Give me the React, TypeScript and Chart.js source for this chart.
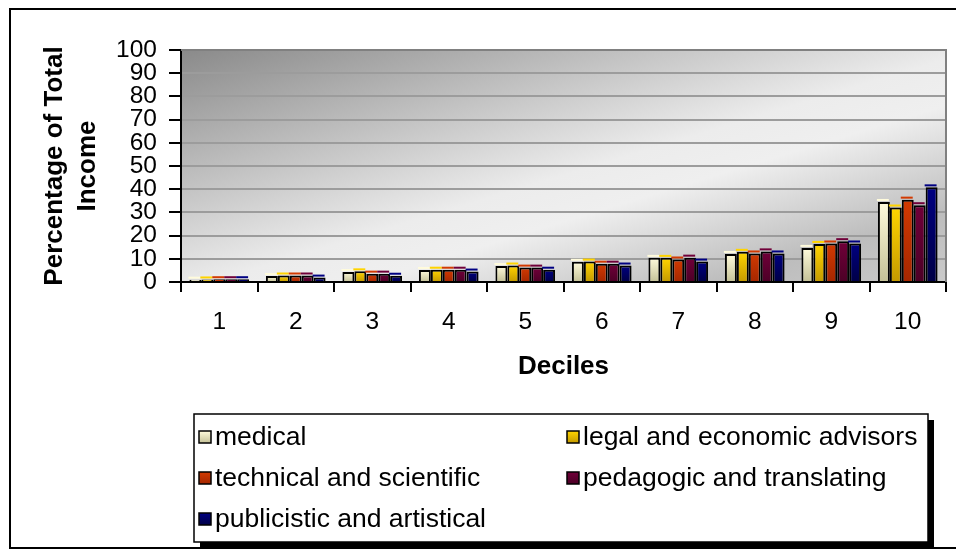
import React, { useEffect, useRef } from "react";
import { Chart, registerables } from "chart.js";

Chart.register(...registerables);

// ---------- data ----------
const deciles = ["1", "2", "3", "4", "5", "6", "7", "8", "9", "10"];
const seriesNames = [
  "medical",
  "legal and economic advisors",
  "technical and scientific",
  "pedagogic and translating",
  "publicistic and artistical",
];
const medical = [1.0, 2.6, 4.3, 5.2, 6.9, 8.7, 10.4, 12.1, 14.7, 34.5];
const legalEconomic = [1.1, 2.8, 4.6, 5.3, 7.1, 8.8, 10.4, 13.0, 16.4, 32.1];
const technicalScientific = [1.2, 2.8, 3.6, 5.3, 6.2, 7.9, 9.7, 12.3, 16.6, 35.5];
const pedagogicTranslating = [1.2, 2.8, 3.6, 5.3, 6.2, 7.9, 10.5, 13.2, 17.6, 33.1];
const publicisticArtistical = [1.2, 1.9, 2.7, 4.5, 5.3, 7.1, 8.8, 12.3, 16.6, 40.8];
const yAxisTitle = ["Percentage of Total", "Income"];
const xAxisTitle = "Deciles";

// ---------- styles ----------
const FONT = "'Liberation Sans', Arial, Helvetica, sans-serif";
const seriesColors: [string, string][] = [
  ["#fffbdc", "#c4c197"],
  ["#ffd400", "#c49a00"],
  ["#d23a02", "#a52700"],
  ["#700039", "#4c0026"],
  ["#000082", "#000046"],
];

const barFill = (top: string, bottom: string) => (ctx: any) => {
  const chart = ctx.chart;
  const y = chart.scales && chart.scales.y;
  if (!y || ctx.type !== "data") return bottom;
  const v = ctx.raw as number;
  const y0 = y.getPixelForValue(0);
  const y1 = y.getPixelForValue(v);
  if (!isFinite(y0) || !isFinite(y1) || Math.abs(y0 - y1) < 0.5) return bottom;
  const g = chart.ctx.createLinearGradient(0, y1, 0, y0);
  g.addColorStop(0, top);
  g.addColorStop(1, bottom);
  return g;
};

const frameAndBackground = {
  id: "frameAndBackground",
  beforeDraw(chart: any) {
    const { ctx, chartArea: a } = chart;
    ctx.save();
    ctx.strokeStyle = "#000";
    ctx.lineWidth = 2;
    ctx.beginPath();
    ctx.moveTo(9, 9);
    ctx.lineTo(958, 9);
    ctx.moveTo(10, 8);
    ctx.lineTo(10, 549);
    ctx.moveTo(9, 548);
    ctx.lineTo(958, 548);
    ctx.stroke();
    ctx.translate(a.left, a.top);
    ctx.scale(a.right - a.left, a.bottom - a.top);
    const g = ctx.createLinearGradient(0, 0, 1, 1);
    g.addColorStop(0, "#8a8a8a");
    g.addColorStop(0.52, "#ececec");
    g.addColorStop(0.62, "#efefef");
    g.addColorStop(0.85, "#bdbdbd");
    g.addColorStop(1, "#cacaca");
    ctx.fillStyle = g;
    ctx.fillRect(0, 0, 1, 1);
    ctx.restore();
  },
  beforeDatasetsDraw(chart: any) {
    const { ctx, chartArea: a } = chart;
    ctx.save();
    ctx.strokeStyle = "#808080";
    ctx.lineWidth = 2;
    ctx.beginPath();
    ctx.moveTo(a.left, a.top);
    ctx.lineTo(a.right, a.top);
    ctx.lineTo(a.right, a.bottom);
    ctx.stroke();
    ctx.restore();
  },
  afterDatasetsDraw(chart: any) {
    // light top cap of each bar (3-D look)
    const ctx = chart.ctx;
    ctx.save();
    chart.data.datasets.forEach((_ds: any, i: number) => {
      const meta = chart.getDatasetMeta(i);
      ctx.fillStyle = seriesColors[i][0];
      meta.data.forEach((el: any) => {
        const w = el.width;
        ctx.fillRect(el.x - w / 2 - 1, el.y - 3, w, 2);
      });
    });
    ctx.restore();
  },
};

const LEG = { x: 194, y: 414, w: 734, h: 128, col2: 567, col1: 199, rows: [437, 478, 519] };

const boxLegend = {
  id: "boxLegend",
  afterDraw(chart: any) {
    const ctx = chart.ctx;
    ctx.save();
    ctx.fillStyle = "#000";
    ctx.fillRect(LEG.x + 6, LEG.y + 6, LEG.w, LEG.h);
    ctx.fillStyle = "#fff";
    ctx.fillRect(LEG.x, LEG.y, LEG.w, LEG.h);
    ctx.strokeStyle = "#000";
    ctx.lineWidth = 1.5;
    ctx.strokeRect(LEG.x, LEG.y, LEG.w, LEG.h);
    ctx.font = `26.5px ${FONT}`;
    ctx.textBaseline = "middle";
    ctx.textAlign = "left";
    chart.data.datasets.forEach((ds: any, i: number) => {
      const col = i % 2;
      const row = Math.floor(i / 2);
      const sx = col === 0 ? LEG.col1 : LEG.col2;
      const cy = LEG.rows[row];
      const [top, bottom] = seriesColors[i];
      const g = ctx.createLinearGradient(0, cy - 6, 0, cy + 6);
      g.addColorStop(0, top);
      g.addColorStop(1, bottom);
      ctx.fillStyle = g;
      ctx.fillRect(sx, cy - 6, 12, 12);
      ctx.strokeStyle = "#000";
      ctx.lineWidth = 1.5;
      ctx.strokeRect(sx, cy - 6, 12, 12);
      ctx.fillStyle = "#000";
      ctx.fillText(ds.label, sx + 16, cy + 1);
    });
    ctx.restore();
  },
};

export default function App() {
  const ref = useRef<HTMLCanvasElement | null>(null);

  useEffect(() => {
    if (!ref.current) return;
    const values = [medical, legalEconomic, technicalScientific, pedagogicTranslating, publicisticArtistical];
    const chart = new Chart(ref.current, {
      type: "bar",
      data: {
        labels: deciles,
        datasets: values.map((d, i) => ({
          label: seriesNames[i],
          data: d,
          backgroundColor: barFill(seriesColors[i][0], seriesColors[i][1]),
          borderColor: "#000",
          borderWidth: 2,
          borderSkipped: "bottom",
          categoryPercentage: 0.78,
          barPercentage: 1.0,
        })),
      },
      options: {
        responsive: false,
        animation: false,
        devicePixelRatio: 1,
        layout: { padding: { top: 50, left: 20, right: 10, bottom: 169 } },
        plugins: {
          legend: { display: false },
          tooltip: { enabled: false },
          title: { display: false },
        },
        scales: {
          x: {
            grid: {
              display: true,
              drawOnChartArea: false,
              drawTicks: true,
              tickLength: 10,
              tickColor: "#000",
              lineWidth: 2,
              offset: true,
            },
            border: { display: true, color: "#000", width: 2 },
            ticks: {
              color: "#000",
              font: { family: FONT, size: 24.5 },
              padding: 16,
              maxRotation: 0,
              autoSkip: false,
            },
            title: {
              display: true,
              text: xAxisTitle,
              color: "#000",
              font: { family: FONT, size: 26, weight: "bold" },
              padding: { top: 0, bottom: 0 },
            },
            afterFit: (s: any) => {
              s.height = 100;
            },
          },
          y: {
            min: 0,
            max: 100,
            grid: {
              color: "#9c9c9c",
              lineWidth: 2,
              tickColor: "#000",
              tickLength: 12,
              drawTicks: true,
            },
            border: { display: true, color: "#000", width: 2 },
            ticks: {
              stepSize: 10,
              autoSkip: false,
              color: "#000",
              font: { family: FONT, size: 24.5 },
              padding: 12,
            },
            title: {
              display: true,
              text: yAxisTitle,
              color: "#000",
              font: { family: FONT, size: 26, weight: "bold", lineHeight: 1.29 },
              padding: { top: 18, bottom: 0 },
            },
            afterFit: (s: any) => {
              s.width = 161;
            },
          },
        },
      },
      plugins: [frameAndBackground, boxLegend],
    });
    return () => chart.destroy();
  }, []);

  return (
    <div style={{ position: "absolute", left: 0, top: 0, width: 956, height: 551 }}>
      <canvas ref={ref} width={956} height={551} style={{ width: 956, height: 551, display: "block" }} />
    </div>
  );
}
